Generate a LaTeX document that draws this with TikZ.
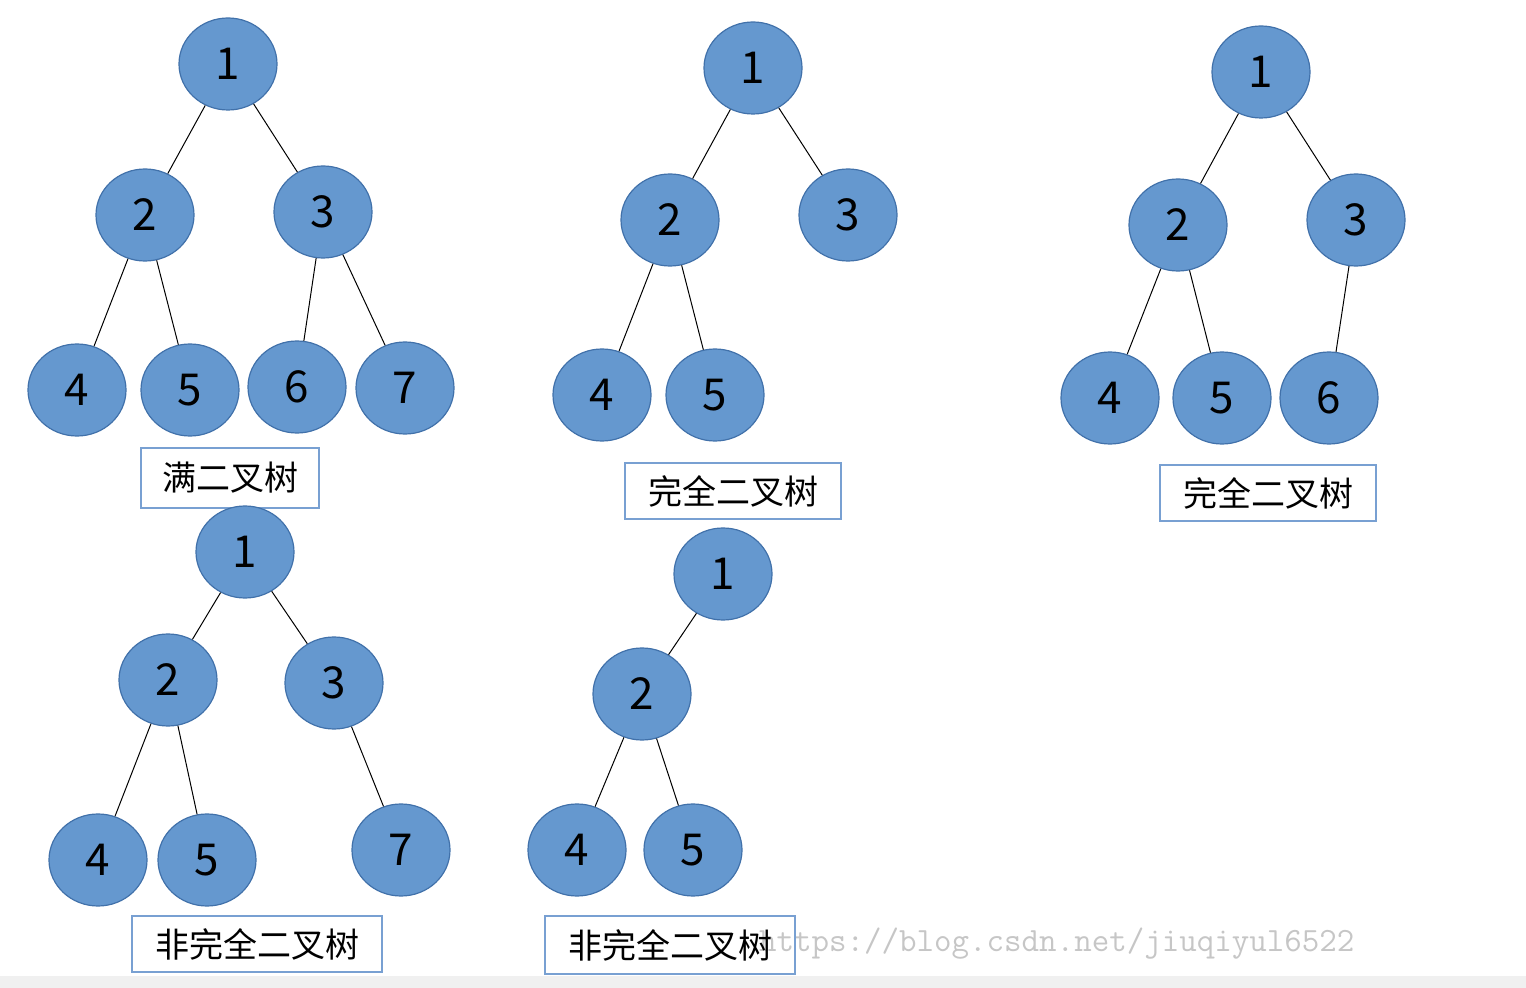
\documentclass[tikz,border=0pt]{standalone}
\usepackage{fontspec}
\setmainfont{Noto Sans CJK SC}
\usetikzlibrary{shapes.geometric}
\definecolor{nfill}{RGB}{101,152,207}
\definecolor{nline}{RGB}{65,113,170}
\definecolor{bline}{RGB}{120,160,210}
\tikzset{
 tn/.style={ellipse,fill=nfill,draw=nline,line width=0.6pt,minimum width=49pt,minimum height=46pt,inner sep=0pt,font=\fontsize{22}{22}\selectfont},
 lbl/.style={draw=bline,fill=white,line width=0.6pt,inner sep=0pt,font=\fontsize{17}{17}\selectfont},
 ed/.style={black,line width=0.5pt}
}
\begin{document}
\begin{tikzpicture}[x=0.5pt,y=-0.5pt]
\useasboundingbox (0,0) rectangle (1526,988);
\fill[gray!12] (0,976) rectangle (1526,988);
% tree 1
\node[tn] (a1) at (228,64) {1};
\node[tn] (a2) at (145,215) {2};
\node[tn] (a3) at (323,212) {3};
\node[tn] (a4) at (77,390) {4};
\node[tn] (a5) at (190,390) {5};
\node[tn] (a6) at (297,387) {6};
\node[tn] (a7) at (405,388) {7};
\draw[ed] (a1)--(a2) (a1)--(a3) (a2)--(a4) (a2)--(a5) (a3)--(a6) (a3)--(a7);
\node[lbl,minimum width=89pt,minimum height=30pt] (la) at (230,478) {满二叉树};
% tree 2
\node[tn] (b1) at (753,68) {1};
\node[tn] (b2) at (670,220) {2};
\node[tn] (b3) at (848,215) {3};
\node[tn] (b4) at (602,395) {4};
\node[tn] (b5) at (715,395) {5};
\draw[ed] (b1)--(b2) (b1)--(b3) (b2)--(b4) (b2)--(b5);
\node[lbl,minimum width=108pt,minimum height=28pt] (lb) at (733,491) {完全二叉树};
% tree 3
\node[tn] (c1) at (1261,72) {1};
\node[tn] (c2) at (1178,225) {2};
\node[tn] (c3) at (1356,220) {3};
\node[tn] (c4) at (1110,398) {4};
\node[tn] (c5) at (1222,398) {5};
\node[tn] (c6) at (1329,398) {6};
\draw[ed] (c1)--(c2) (c1)--(c3) (c2)--(c4) (c2)--(c5) (c3)--(c6);
\node[lbl,minimum width=108pt,minimum height=28pt] (lc) at (1268,493) {完全二叉树};
% tree 4
\node[tn] (d1) at (245,552) {1};
\node[tn] (d2) at (168,680) {2};
\node[tn] (d3) at (334,683) {3};
\node[tn] (d4) at (98,860) {4};
\node[tn] (d5) at (207,860) {5};
\node[tn] (d7) at (401,850) {7};
\draw[ed] (d1)--(d2) (d1)--(d3) (d2)--(d4) (d2)--(d5) (d3)--(d7);
\node[lbl,minimum width=125pt,minimum height=28pt] (ld) at (257,944) {非完全二叉树};
% tree 5
\node[tn] (e1) at (723,574) {1};
\node[tn] (e2) at (642,694) {2};
\node[tn] (e4) at (577,850) {4};
\node[tn] (e5) at (693,850) {5};
\draw[ed] (e1)--(e2) (e2)--(e4) (e2)--(e5);
\node[gray!45,anchor=west,font=\ttfamily\fontsize{17}{17}\selectfont] (wm) at (752,944) {https://blog.csdn.net/jiuqiyul6522};
\node[lbl,minimum width=125pt,minimum height=29pt,fill=none] (le) at (670,945) {非完全二叉树};
\end{tikzpicture}
\end{document}
